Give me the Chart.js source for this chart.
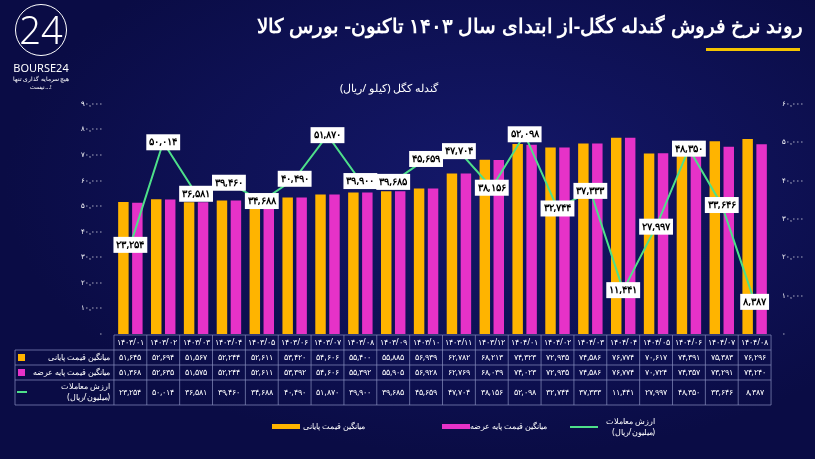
<!DOCTYPE html>
<html><head><meta charset="utf-8">
<script src="https://cdn.jsdelivr.net/npm/chart.js@4"></script>
<style>
html,body{margin:0;padding:0;background:#0a0c45;}
#wrap{position:relative;width:815px;height:459px;background:radial-gradient(ellipse at 60% 40%,#14186a 0%,#0a0c45 70%);overflow:hidden;font-family:"Noto Sans",sans-serif;}
#title{position:absolute;right:12px;top:12px;color:#fff;font:bold 20px "Noto Sans",sans-serif;direction:rtl;}
#uline{position:absolute;left:706px;top:48px;width:94px;height:3px;background:#f5c400;}
#sub{position:absolute;left:340px;top:80px;color:#fff;font-size:11px;direction:rtl;}
#logo{position:absolute;left:6px;top:4px;color:#fff;font-size:11px;text-align:center;width:70px;}
#logo b{display:block;font-size:38px;font-weight:300;line-height:48px;border:1px solid #fff;border-radius:50%;width:50px;height:50px;margin:0 auto 4px;}
canvas{position:absolute;left:0;top:0;}
</style></head><body>
<div id="wrap">
<canvas id="c" width="815" height="459"></canvas>
<div id="logo"><b>24</b>BOURSE24<div style="font-size:6px">هیچ سرمایه گذاری تنها نیست...!</div></div>
<div id="title">روند نرخ فروش گندله کگل-از ابتدای سال ۱۴۰۳ تاکنون- بورس کالا</div>
<div id="uline"></div>
<div id="sub">گندله کگل (کیلو /ریال)</div>
</div>
<script>
const months = ['1403/01','1403/02','1403/03','1403/04','1403/05','1403/06','1403/07','1403/08','1403/09','1403/10','1403/11','1403/12','1404/01','1404/02','1404/03','1404/04','1404/05','1404/06','1404/07','1404/08'];
const floorPrice = [51645,52694,51567,52244,52611,53420,54606,55400,55885,56939,62782,68213,74323,72935,74586,76774,70617,74391,75383,76296];
const basePrice = [51368,52635,51575,52244,52611,53392,54606,55392,55905,56928,62769,68039,74023,72935,74586,76774,70724,74357,73291,74240];
const tradeValue = [23254,50014,36581,39460,34688,40490,51870,39900,39685,45659,47704,38156,52098,32744,37333,11441,27997,48350,33646,8387];
const leftTicks = [0,10000,20000,30000,40000,50000,60000,70000,80000,90000];
const rightTicks = [0,10000,20000,30000,40000,50000,60000];

const fa = s => String(s).replace(/\d/g, d => '۰۱۲۳۴۵۶۷۸۹'[d]);
const num = v => fa(v.toLocaleString('en-US'));

const lineLabels = {
  id: 'lineLabels',
  afterDatasetsDraw(chart) {
    const ctx = chart.ctx;
    const meta = chart.getDatasetMeta(2);
    ctx.save();
    ctx.font = 'bold 10px "Noto Sans"';
    ctx.textAlign = 'center'; ctx.textBaseline = 'middle';
    meta.data.forEach((p, i) => {
      const t = num(tradeValue[i]);
      const w = ctx.measureText(t).width + 6;
      ctx.fillStyle = '#fff';
      ctx.fillRect(p.x - w / 2, p.y - 8, w, 16);
      ctx.fillStyle = '#000';
      ctx.fillText(t, p.x, p.y);
    });
    ctx.restore();
  },
  afterDraw(chart) {
    const ctx = chart.ctx, x = chart.scales.x, ca = chart.chartArea;
    const step = x.getPixelForValue(1) - x.getPixelForValue(0);
    const L = ca.left, R = ca.right, top = 335;
    const rows = [top, 350, 365, 380, 405];
    ctx.save();
    ctx.strokeStyle = '#8a90c0'; ctx.lineWidth = 0.7;
    rows.forEach(y => { ctx.beginPath(); ctx.moveTo(y === top ? L : 15, y); ctx.lineTo(R, y); ctx.stroke(); });
    for (let i = 0; i <= months.length; i++) {
      const xx = L + i * step;
      ctx.beginPath(); ctx.moveTo(xx, top); ctx.lineTo(xx, 405); ctx.stroke();
    }
    ctx.beginPath(); ctx.moveTo(15, 350); ctx.lineTo(15, 405); ctx.stroke();
    ctx.fillStyle = '#fff'; ctx.font = '8px "Noto Sans"';
    ctx.textAlign = 'center'; ctx.textBaseline = 'middle';
    months.forEach((m, i) => {
      const cx = x.getPixelForValue(i);
      ctx.fillText(fa(m), cx, 342.5);
      ctx.fillText(num(floorPrice[i]), cx, 357.5);
      ctx.fillText(num(basePrice[i]), cx, 372.5);
      ctx.fillText(num(tradeValue[i]), cx, 392.5);
    });
    ctx.textAlign = 'right';
    ctx.fillText('میانگین قیمت پایانی', L - 4, 357.5);
    ctx.fillText('میانگین قیمت پایه عرضه', L - 4, 372.5);
    ctx.fillText('ارزش معاملات', L - 4, 387);
    ctx.fillText('(میلیون/ریال)', L - 4, 398);
    ctx.fillStyle = '#ffb400'; ctx.fillRect(18, 354, 7, 7);
    ctx.fillStyle = '#e632c8'; ctx.fillRect(18, 369, 7, 7);
    ctx.strokeStyle = '#4ee08a'; ctx.lineWidth = 2;
    ctx.beginPath(); ctx.moveTo(17, 392); ctx.lineTo(27, 392); ctx.stroke();
    // bottom legend
    ctx.textAlign = 'right'; ctx.font = '8px "Noto Sans"';
    ctx.fillStyle = '#ffb400'; ctx.fillRect(272, 424, 28, 5);
    ctx.fillStyle = '#fff'; ctx.fillText('میانگین قیمت پایانی', 365, 427);
    ctx.fillStyle = '#e632c8'; ctx.fillRect(442, 424, 28, 5);
    ctx.fillStyle = '#fff'; ctx.fillText('میانگین قیمت پایه عرضه', 547, 427);
    ctx.strokeStyle = '#4ee08a'; ctx.beginPath(); ctx.moveTo(570, 427); ctx.lineTo(598, 427); ctx.stroke();
    ctx.fillText('ارزش معاملات', 655, 422); ctx.fillText('(میلیون/ریال)', 655, 433);
    ctx.restore();
  }
};

new Chart(document.getElementById('c'), {
  data: {
    labels: months,
    datasets: [
      { type: 'bar', data: floorPrice, backgroundColor: '#ffb400', yAxisID: 'y', barPercentage: 0.75, categoryPercentage: 0.85, order: 2 },
      { type: 'bar', data: basePrice, backgroundColor: '#e632c8', yAxisID: 'y', barPercentage: 0.75, categoryPercentage: 0.85, order: 2 },
      { type: 'line', data: tradeValue, borderColor: '#4ee08a', borderWidth: 2, pointRadius: 0, yAxisID: 'y2', order: 1 }
    ]
  },
  options: {
    responsive: false, animation: false,
    layout: { padding: { left: 78, right: 8, top: 104, bottom: 117 } },
    plugins: { legend: { display: false }, tooltip: { enabled: false } },
    scales: {
      x: { offset: true, grid: { display: false }, ticks: { display: false }, border: { display: false } },
      y: { min: 0, max: 90000, afterBuildTicks: a => { a.ticks = leftTicks.map(v => ({ value: v })); },
           grid: { display: false }, border: { display: false },
           ticks: { color: '#fff', font: { size: 7 }, callback: v => num(v) } },
      y2: { position: 'right', min: 0, max: 60000, afterBuildTicks: a => { a.ticks = rightTicks.map(v => ({ value: v })); },
            grid: { display: false }, border: { display: false },
            ticks: { color: '#fff', font: { size: 7 }, callback: v => num(v) } }
    }
  },
  plugins: [lineLabels]
});
</script>
</body></html>
